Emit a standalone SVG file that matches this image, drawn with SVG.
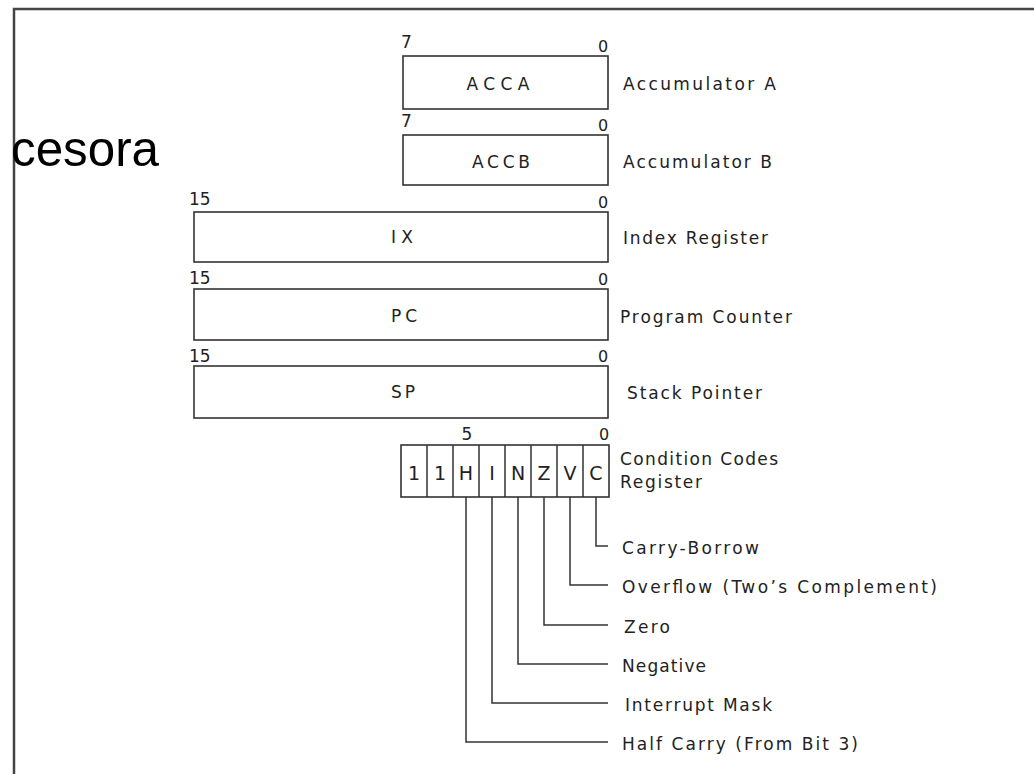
<svg xmlns="http://www.w3.org/2000/svg" width="1034" height="774" viewBox="0 0 1034 774">
<style>
.frame{stroke:#454545;stroke-width:2.5;fill:none}
.box{fill:#fff;stroke:#333;stroke-width:1.6}
.ln{fill:none;stroke:#333;stroke-width:1.5}
text{font-family:"DejaVu Sans","Liberation Sans",sans-serif;fill:#222}
.lbl{font-size:17px}
.reg{font-size:17px;text-anchor:middle}
.num{font-size:17px}
.zero{font-size:16px;text-anchor:middle}
.bit{font-size:19px;text-anchor:middle}
.big{font-family:"Liberation Sans",Arial,sans-serif;font-size:50px;fill:#000}
</style>
<rect width="1034" height="774" fill="#fff"/>
<g id="frame">
<path class="frame" d="M14,774 V9 H1034"/>
</g>
<text class="big" x="11" y="166" textLength="148" lengthAdjust="spacingAndGlyphs">cesora</text>
<g id="acca">
<rect class="box" x="403" y="56" width="205" height="53"/>
<text class="num" x="401" y="48">7</text>
<text class="zero" x="603" y="52">0</text>
<text class="reg" x="498" y="90" textLength="63" lengthAdjust="spacing">ACCA</text>
<text class="lbl" x="623" y="90" textLength="153" lengthAdjust="spacing">Accumulator A</text>
</g>
<g id="accb">
<rect class="box" x="403" y="135" width="205" height="50"/>
<text class="num" x="401" y="127">7</text>
<text class="zero" x="603" y="131">0</text>
<text class="reg" x="501" y="168" textLength="58" lengthAdjust="spacing">ACCB</text>
<text class="lbl" x="623" y="168" textLength="149" lengthAdjust="spacing">Accumulator B</text>
</g>
<g id="ix">
<rect class="box" x="194" y="212" width="414" height="50"/>
<text class="num" x="189" y="205">15</text>
<text class="zero" x="603" y="208">0</text>
<text class="reg" x="402" y="243" textLength="22" lengthAdjust="spacing">IX</text>
<text class="lbl" x="623" y="244" textLength="145" lengthAdjust="spacing">Index Register</text>
</g>
<g id="pc">
<rect class="box" x="194" y="289" width="414" height="51"/>
<text class="num" x="189" y="284">15</text>
<text class="zero" x="603" y="285">0</text>
<text class="reg" x="404" y="322" textLength="26" lengthAdjust="spacing">PC</text>
<text class="lbl" x="620" y="323" textLength="172" lengthAdjust="spacing">Program Counter</text>
</g>
<g id="sp">
<rect class="box" x="194" y="366" width="414" height="52"/>
<text class="num" x="189" y="362">15</text>
<text class="zero" x="603" y="362">0</text>
<text class="reg" x="403" y="398" textLength="24" lengthAdjust="spacing">SP</text>
<text class="lbl" x="627" y="399" textLength="135" lengthAdjust="spacing">Stack Pointer</text>
</g>
<g id="ccr">
<rect class="box" x="401" y="445" width="208" height="52"/>
<path class="ln" d="M427,445V497M453,445V497M479,445V497M505,445V497M531,445V497M557,445V497M583,445V497"/>
<text class="bit" x="414" y="480">1</text>
<text class="bit" x="440" y="480">1</text>
<text class="bit" x="466" y="480">H</text>
<text class="bit" x="492" y="480">I</text>
<text class="bit" x="518" y="480">N</text>
<text class="bit" x="544" y="480">Z</text>
<text class="bit" x="570" y="480">V</text>
<text class="bit" x="596" y="480">C</text>
<text class="num" x="467" y="440" text-anchor="middle">5</text>
<text class="zero" x="604" y="440">0</text>
<text class="lbl" x="620" y="465" textLength="158" lengthAdjust="spacing">Condition Codes</text>
<text class="lbl" x="620" y="488" textLength="82" lengthAdjust="spacing">Register</text>
</g>
<g id="connectors">
<path class="ln" d="M596,497V546H608"/>
<path class="ln" d="M570,497V585H608"/>
<path class="ln" d="M544,497V625H608"/>
<path class="ln" d="M518,497V664H608"/>
<path class="ln" d="M492,497V703H608"/>
<path class="ln" d="M466,497V742H608"/>
</g>
<g id="flag-labels">
<text class="lbl" x="622" y="554" textLength="137" lengthAdjust="spacing">Carry-Borrow</text>
<text class="lbl" x="622" y="593" textLength="315" lengthAdjust="spacing">Overflow (Two’s Complement)</text>
<text class="lbl" x="624" y="633" textLength="46" lengthAdjust="spacing">Zero</text>
<text class="lbl" x="622" y="672" textLength="84" lengthAdjust="spacing">Negative</text>
<text class="lbl" x="625" y="711" textLength="147" lengthAdjust="spacing">Interrupt Mask</text>
<text class="lbl" x="622" y="750" textLength="236" lengthAdjust="spacing">Half Carry (From Bit 3)</text>
</g>
</svg>
